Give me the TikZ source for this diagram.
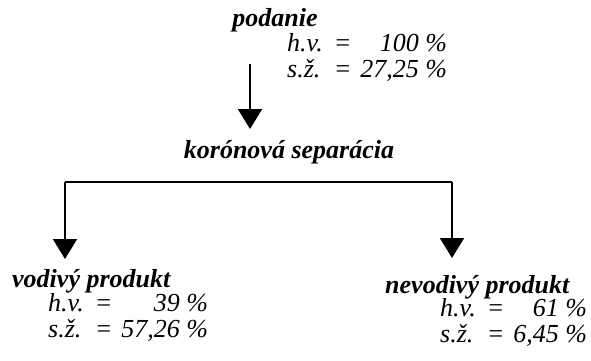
\documentclass[tikz,border=0pt]{standalone}
\usepackage{fontspec}
\setmainfont{Liberation Serif}
\usetikzlibrary{arrows.meta}
\tikzset{
  title/.style={inner sep=0pt, font=\fontsize{26}{24}\selectfont\bfseries\itshape},
  stats/.style={inner sep=0pt, anchor=west, font=\fontsize{26}{24}\selectfont\itshape},
  conn/.style={line width=2pt, -{Triangle[width=24pt,length=20pt]}},
  line/.style={line width=2pt}
}
\newcommand{\statblock}[2]{\begin{tabular}{@{}l@{\hspace{11pt}}c@{\hspace{9pt}}r@{}}h.v. & = & #1 \%\\ s.ž. & = & #2 \%\end{tabular}}
\begin{document}
\begin{tikzpicture}[x=1pt,y=-1pt]
\useasboundingbox (0,0) rectangle (591,361);
\node[title] (pod) at (275,20) {podanie};
\node[stats] (podst) at (287,59) {\statblock{100}{27,25}};
\node[title] (kor) at (289,152) {korónová separácia};
\node[title, anchor=west] (vod) at (12,281) {vodivý produkt};
\node[stats] (vodst) at (48,319) {\statblock{39}{57,26}};
\node[title, anchor=west] (nev) at (385,287) {nevodivý produkt};
\node[stats] (nevst) at (440,324) {\statblock{61}{6,45}};
\coordinate (a0) at (250,64);
\coordinate (a1) at (250,129);
\coordinate (hl) at (65,182);
\coordinate (hr) at (452,182);
\coordinate (tl) at (65,259);
\coordinate (tr) at (452,258);
\draw[conn] (a0) -- (a1);
\draw[line] (hl) -- (hr);
\draw[conn] (hl) -- (tl);
\draw[conn] (hr) -- (tr);
\end{tikzpicture}
\end{document}
